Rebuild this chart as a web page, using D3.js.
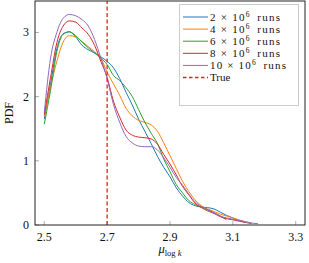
<!DOCTYPE html>
<html>
<head>
<meta charset="utf-8">
<script src="https://cdn.jsdelivr.net/npm/d3@7"></script>
<style>
  body { margin: 0; background: #fff; }
  text { font-family: 'Liberation Serif', 'DejaVu Serif', serif; fill: #111; }
</style>
</head>
<body>
<svg width="309" height="263"></svg>
<script>
const svg = d3.select('svg')
const width = +svg.attr('width')
const height = +svg.attr('height')

// data
const xs = [2.50, 2.52, 2.54, 2.56, 2.58, 2.60, 2.62, 2.64, 2.66, 2.68, 2.70, 2.72,
            2.74, 2.76, 2.78, 2.80, 2.82, 2.84, 2.86, 2.88, 2.90, 2.92, 2.94, 2.96,
            2.98, 3.00, 3.02, 3.04, 3.06, 3.08, 3.10, 3.12, 3.14, 3.16, 3.18]
const runs2 = [1.65, 2.20, 2.75, 2.98, 3.01, 2.93, 2.80, 2.73, 2.68, 2.62, 2.55, 2.45,
               2.28, 2.07, 1.87, 1.65, 1.46, 1.27, 1.07, 0.90, 0.75, 0.58, 0.45, 0.35,
               0.30, 0.28, 0.27, 0.25, 0.20, 0.15, 0.11, 0.07, 0.04, 0.02, null]
const runs4 = [1.70, 2.15, 2.55, 2.85, 2.95, 2.93, 2.86, 2.78, 2.70, 2.60, 2.38, 2.20,
               2.02, 1.82, 1.70, 1.63, 1.60, 1.56, 1.46, 1.28, 1.08, 0.88, 0.68, 0.52,
               0.39, 0.30, 0.25, 0.21, 0.17, 0.14, 0.11, 0.08, 0.05, 0.03, null]
const runs6 = [1.57, 2.10, 2.70, 2.97, 3.01, 2.95, 2.85, 2.76, 2.68, 2.60, 2.50, 2.33,
               2.25, 2.14, 2.00, 1.80, 1.60, 1.43, 1.27, 1.03, 0.83, 0.63, 0.50, 0.38,
               0.32, 0.28, 0.24, 0.19, 0.14, 0.08, null, null, null, null, null]
const runs8 = [1.72, 2.30, 2.84, 3.10, 3.18, 3.16, 3.07, 2.97, 2.80, 2.55, 2.30, 1.93,
               1.68, 1.48, 1.40, 1.37, 1.36, 1.34, 1.26, 1.10, 0.95, 0.78, 0.60, 0.47,
               0.34, 0.27, 0.22, 0.18, 0.13, 0.10, 0.08, 0.06, 0.04, null, null]
const runs10 = [1.75, 2.60, 3.00, 3.22, 3.28, 3.26, 3.20, 3.10, 2.89, 2.60, 2.28, 1.88,
                1.60, 1.38, 1.28, 1.23, 1.22, 1.22, 1.17, 1.05, 0.90, 0.74, 0.62, 0.48,
                0.36, 0.29, 0.23, 0.19, 0.14, 0.11, 0.09, 0.07, 0.05, 0.03, 0.02]
const trueValue = 2.7

const seriesNames = ['2', '4', '6', '8', '10']
const seriesValues = [runs2, runs4, runs6, runs8, runs10]
const colors = ['#1f77b4', '#ff7f0e', '#2ca02c', '#d62728', '#9467bd']
const trueColor = '#ee1c1c'

const xTicks = [2.5, 2.7, 2.9, 3.1, 3.3]
const yTicks = [0, 1, 2, 3]

const margin = { left: 35, right: 4, top: 1, bottom: 38 }

const x = d3.scaleLinear()
    .domain([2.4705, 3.3295])
    .range([margin.left, width - margin.right])
const y = d3.scaleLinear()
    .domain([0, 3.49])
    .range([height - margin.bottom, margin.top])

// ticks (inward, grey)
const g = svg.append('g')
g.selectAll('.xt').data(xTicks).enter().append('line')
    .attr('x1', d => x(d)).attr('x2', d => x(d))
    .attr('y1', y(0)).attr('y2', y(0) - 4)
    .attr('stroke', '#999').attr('stroke-width', 0.8)
g.selectAll('.yt').data(yTicks).enter().append('line')
    .attr('x1', x.range()[0]).attr('x2', x.range()[0] + 4)
    .attr('y1', d => y(d)).attr('y2', d => y(d))
    .attr('stroke', '#999').attr('stroke-width', 0.8)

g.selectAll('.xl').data(xTicks).enter().append('text')
    .attr('x', d => x(d)).attr('y', y(0) + 16)
    .attr('text-anchor', 'middle').attr('font-size', 12)
    .text(d => d.toFixed(1))
g.selectAll('.yl').data(yTicks).enter().append('text')
    .attr('x', x.range()[0] - 6).attr('y', d => y(d) + 4)
    .attr('text-anchor', 'end').attr('font-size', 12)
    .text(d => d)

// curves
const line = d3.line()
    .defined(d => d[1] != null)
    .x(d => x(d[0]))
    .y(d => y(d[1]))
    .curve(d3.curveMonotoneX)

seriesValues.forEach((vals, i) => {
  svg.append('path')
      .datum(xs.map((v, j) => [v, vals[j]]))
      .attr('d', line)
      .attr('fill', 'none')
      .attr('stroke', colors[i])
      .attr('stroke-width', 1)
})

svg.append('line')
    .attr('x1', x(trueValue)).attr('x2', x(trueValue))
    .attr('y1', y.range()[0]).attr('y2', y.range()[1])
    .attr('stroke', trueColor).attr('stroke-width', 1.3)
    .attr('stroke-dasharray', '4,2.5')

// frame
svg.append('rect')
    .attr('x', x.range()[0]).attr('y', y.range()[1])
    .attr('width', x.range()[1] - x.range()[0])
    .attr('height', y.range()[0] - y.range()[1])
    .attr('fill', 'none').attr('stroke', '#222').attr('stroke-width', 1)

// axis labels
svg.append('text')
    .attr('transform', `translate(13,${(y.range()[0] + y.range()[1]) / 2}) rotate(-90)`)
    .attr('text-anchor', 'middle').attr('font-size', 12)
    .text('PDF')
const xl = svg.append('text')
    .attr('x', 170).attr('y', 253)
    .attr('text-anchor', 'middle').attr('font-size', 12.5)
xl.append('tspan').attr('font-style', 'italic').text('μ')
xl.append('tspan').attr('font-size', 8.5).attr('dy', 2.5).text('log ')
xl.append('tspan').attr('font-size', 8.5).attr('font-style', 'italic').text('k')

// legend
const legend = svg.append('g')
legend.append('rect')
    .attr('x', 179.5).attr('y', 4.5).attr('width', 119).attr('height', 101)
    .attr('fill', '#fff').attr('stroke', '#ccc').attr('stroke-width', 1)

const entries = seriesNames.map((n, i) => ({ n, color: colors[i], dash: null }))
    .concat([{ n: null, color: trueColor, dash: '3.5,2.5' }])

entries.forEach((d, i) => {
  const cy = 17 + i * 12.1
  legend.append('line')
      .attr('x1', 183).attr('x2', 208).attr('y1', cy).attr('y2', cy)
      .attr('stroke', d.color).attr('stroke-width', d.dash ? 1.3 : 1)
      .attr('stroke-dasharray', d.dash)
  const t = legend.append('text')
      .attr('x', 210).attr('y', cy + 3.5).attr('font-size', 11)
  if (d.n == null) {
    t.text('True')
  } else {
    t.append('tspan').text(`${d.n} × 10`)
    t.append('tspan').attr('font-size', 7.5).attr('dy', -4).text('6')
    t.append('tspan').attr('dy', 4).text('\u2002runs')
    t.attr('textLength', d.n.length > 1 ? 76 : 70).attr('lengthAdjust', 'spacing')
  }
})
</script>
</body>
</html>
